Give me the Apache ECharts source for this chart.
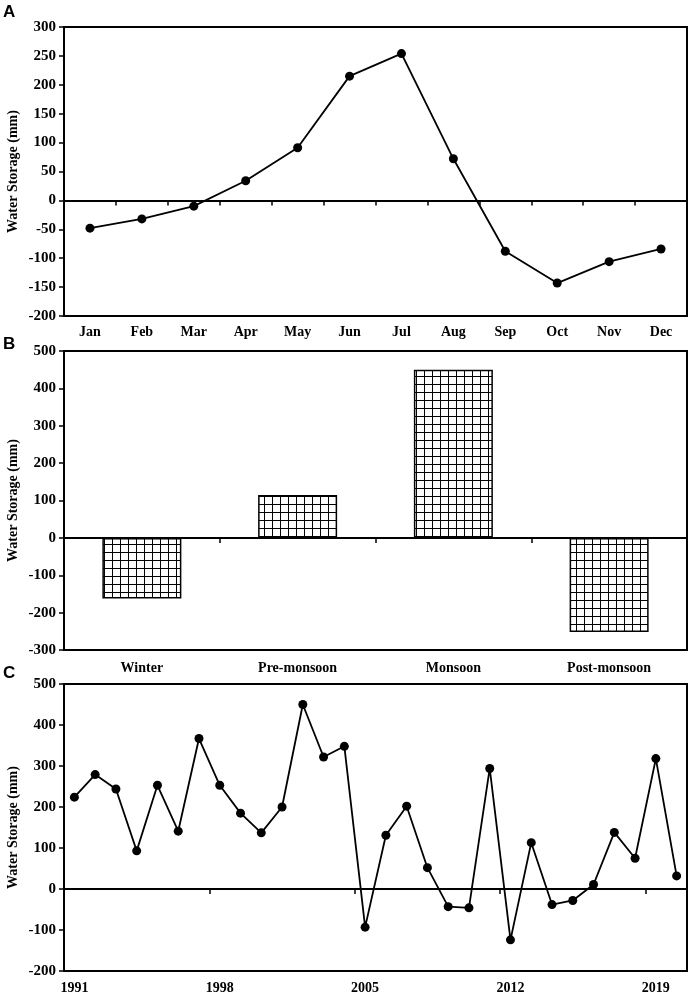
<!DOCTYPE html>
<html>
<head>
<meta charset="utf-8">
<script src="https://cdn.jsdelivr.net/npm/echarts@6/dist/echarts.min.js"></script>
<style>
html,body{margin:0;padding:0;background:#fff;}
#main{width:692px;height:997px;}
</style>
</head>
<body>
<div id="main"></div>
<script>
/* 月份数据 (A) */
var months = ['Jan','Feb','Mar','Apr','May','Jun','Jul','Aug','Sep','Oct','Nov','Dec'];
var monthValues = [-48, -32, -10, 34, 91, 215, 254, 72, -88, -143, -106, -84];
/* 季节数据 (B) */
var seasons = ['Winter','Pre-monsoon','Monsoon','Post-monsoon'];
var seasonValues = [-162, 115, 450, -252];
/* 年度数据 (C) */
var years = ['1991','1992','1993','1994','1995','1996','1997','1998','1999','2000',
	'2001','2002','2003','2004','2005','2006','2007','2008','2009','2010',
	'2011','2012','2013','2014','2015','2016','2017','2018','2019','2020'];
var yearValues = [224, 279, 244, 93, 253, 141, 367, 253, 185, 137,
	200, 450, 322, 348, -93, 131, 202, 52, -43, -46,
	294, -124, 113, -38, -28, 11, 138, 75, 318, 32];

var serif = '"Liberation Serif","Times New Roman",serif';
var lbl = {fontFamily: serif, fontWeight: 'bold', fontSize: 15, color: '#000'};

/* 网格填充图案 */
var makeHatch = function(){
	var c = document.createElement('canvas');
	c.width = 8; c.height = 8;
	var ctx = c.getContext('2d');
	ctx.fillStyle = '#fff';
	ctx.fillRect(0, 0, 8, 8);
	ctx.fillStyle = '#000';
	ctx.fillRect(0, 0, 8, 1);
	ctx.fillRect(0, 0, 1, 8);
	return c;
};

/* 零线坐标轴 (带刻度, 无标签) */
function zeroAxis(idx, data, tickInterval){
	return {
		type: 'category', gridIndex: idx, data: data, position: 'bottom',
		axisLine: {onZero: true, lineStyle: {color: '#000', width: 2}},
		axisTick: {show: true, interval: tickInterval, length: 5, lineStyle: {color: '#000', width: 1.5}},
		axisLabel: {show: false}, splitLine: {show: false}
	};
}
/* 底部标签坐标轴 */
function labelAxis(idx, data, labelInterval, margin){
	return {
		type: 'category', gridIndex: idx, data: data, position: 'bottom',
		axisLine: {show: false, onZero: false}, axisTick: {show: false},
		axisLabel: Object.assign({interval: labelInterval, margin: margin}, lbl, {fontSize: 14}),
		splitLine: {show: false}
	};
}
function valueAxis(idx, min, max, step){
	return {
		type: 'value', gridIndex: idx, min: min, max: max, interval: step,
		name: 'Water Storage (mm)', nameLocation: 'middle', nameGap: 44, nameRotate: 90,
		nameMoveOverlap: false,
		nameTextStyle: {fontFamily: serif, fontWeight: 'bold', fontSize: 14, color: '#000'},
		axisLine: {show: true, lineStyle: {color: '#000', width: 2}},
		axisTick: {show: true, length: 5, lineStyle: {color: '#000', width: 1.5}},
		axisLabel: Object.assign({margin: 8}, lbl),
		splitLine: {show: false}
	};
}
var gridBox = {show: true, borderColor: '#000', borderWidth: 2, left: 64, right: 5,
	containLabel: false, outerBoundsMode: 'none'};

var option = {
	animation: false,
	backgroundColor: '#fff',
	grid: [
		Object.assign({top: 27, height: 289}, gridBox),
		Object.assign({top: 351, height: 299}, gridBox),
		Object.assign({top: 684, height: 287}, gridBox)
	],
	xAxis: [
		zeroAxis(0, months, 0), labelAxis(0, months, 0, 9),
		zeroAxis(1, seasons, 0), labelAxis(1, seasons, 0, 11),
		zeroAxis(2, years, 6), labelAxis(2, years, 6, 10)
	],
	yAxis: [
		valueAxis(0, -200, 300, 50),
		valueAxis(1, -300, 500, 100),
		valueAxis(2, -200, 500, 100)
	],
	graphic: [
		{type: 'text', left: 3, top: 4, style: {text: 'A', font: 'bold 17px "Liberation Sans",Arial,sans-serif', fill: '#000'}},
		{type: 'text', left: 3, top: 336, style: {text: 'B', font: 'bold 17px "Liberation Sans",Arial,sans-serif', fill: '#000'}},
		{type: 'text', left: 3, top: 665, style: {text: 'C', font: 'bold 17px "Liberation Sans",Arial,sans-serif', fill: '#000'}}
	],
	series: [
		{
			type: 'line', xAxisIndex: 0, yAxisIndex: 0, data: monthValues,
			symbol: 'circle', symbolSize: 9,
			itemStyle: {color: '#000'}, lineStyle: {color: '#000', width: 1.8}
		},
		{
			type: 'bar', xAxisIndex: 2, yAxisIndex: 1, data: seasonValues, barWidth: 79,
			itemStyle: {color: {image: makeHatch(), repeat: 'repeat'}, borderColor: '#000', borderWidth: 1.5}
		},
		{
			type: 'line', xAxisIndex: 4, yAxisIndex: 2, data: yearValues,
			symbol: 'circle', symbolSize: 9,
			itemStyle: {color: '#000'}, lineStyle: {color: '#000', width: 1.8}
		}
	]
};
var chart = echarts.init(document.getElementById('main'));
chart.setOption(option);
</script>
</body>
</html>
